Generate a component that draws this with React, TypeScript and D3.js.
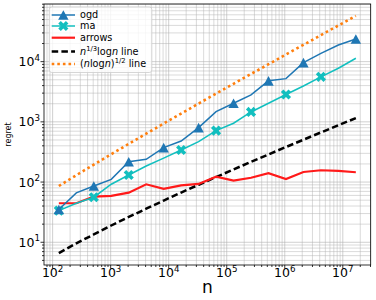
import React from 'react';
import * as d3 from 'd3';

// n = 2^7 ... 2^24
const nValues = [128, 256, 512, 1024, 2048, 4096, 8192, 16384, 32768, 65536, 131072, 262144, 524288, 1048576, 2097152, 4194304, 8388608, 16777216];
const ogd = [35, 66, 86, 111, 218, 239, 373, 480, 801, 1480, 2037, 2798, 4800, 5220, 9624, 13700, 18900, 23830];
const ma = [33.5, 44.5, 56, 92, 131, 185, 250, 341, 469, 714, 948, 1460, 2037, 2850, 3945, 5600, 7765, 11380];
const arrows = [44.5, 44.5, 57.5, 59, 66.6, 91.8, 77, 88, 93, 123, 106, 118, 140, 112, 147, 157, 153, 145.6];
const cubeLogLine = [6.6, 9.6, 13.5, 19.0, 26.3, 36.1, 49.3, 66.9, 90.2, 121, 162, 217, 288, 382, 505, 667, 879, 1155];
const sqrtLogLine = [86, 130, 195, 290, 431, 636, 937, 1375, 2012, 2939, 4284, 6235, 9058, 13143, 19046, 27570, 39865, 57590];
const ogdMarkerIdx = [0, 2, 4, 6, 8, 10, 12, 14, 17];
const maMarkerIdx = [0, 2, 4, 7, 9, 11, 13, 15];
const xTickExps = ['2', '3', '4', '5', '6', '7'];
const yTickExps = ['1', '2', '3', '4'];

const W = 376;
const H = 300;
const L = 44, R = 370.7, T = 4, B = 265;
const FONT = 'DejaVu Sans, sans-serif';
const BLUE = '#1f77b4';
const CYAN = '#12bfbf';
const RED = '#ff1a1a';
const ORANGE = '#ff7f0e';

function paddedLogDomain(vals: number[]): [number, number] {
  const lo = Math.log10(d3.min(vals) as number);
  const hi = Math.log10(d3.max(vals) as number);
  const p = 0.05 * (hi - lo);
  return [Math.pow(10, lo - p), Math.pow(10, hi + p)];
}

const isMajor = (v: number) => Math.abs(Math.log10(v) - Math.round(Math.log10(v))) < 1e-9;

const triPath = 'M0,-4.8 L5.2,4.8 L-5.2,4.8 Z';
function xMarkPath(s: number, t: number) {
  const pts = [[-t, -s], [t, -s], [t, -t], [s, -t], [s, t], [t, t], [t, s], [-t, s], [-t, t], [-s, t], [-s, -t], [-t, -t]];
  return 'M' + pts.map((p) => p.join(',')).join('L') + 'Z';
}
const xPath = xMarkPath(5.4, 1.8);

export default function App() {
  const x = d3.scaleLog().domain(paddedLogDomain(nValues)).range([L, R]);
  const allY = [...ogd, ...ma, ...arrows, ...cubeLogLine, ...sqrtLogLine];
  const y = d3.scaleLog().domain(paddedLogDomain(allY)).range([B, T]);

  const line = (vals: number[]) =>
    d3.line<number>().x((_, i) => x(nValues[i])).y((v) => y(v))(vals) as string;

  const xTicks = x.ticks();
  const yTicks = y.ticks();

  const legendRows = [
    { y: 15, key: 'ogd' },
    { y: 26, key: 'ma' },
    { y: 37.7, key: 'arrows' },
    { y: 51.5, key: 'cube' },
    { y: 64, key: 'sqrt' },
  ];
  const hx0 = 51.7, hx1 = 75, tx = 80;

  return (
    <svg width={W} height={H} style={{ position: 'absolute', left: 0, top: 0, background: '#fff' }} fontFamily={FONT}>
      <rect x={0} y={0} width={W} height={H} fill="#fff" />
      {/* grid */}
      <g>
        {xTicks.map((t, i) => (
          <line key={'gx' + i} x1={x(t)} x2={x(t)} y1={T} y2={B} stroke="#b0b0b0" strokeOpacity={isMajor(t) ? 0.75 : 0.6} strokeWidth={0.8} />
        ))}
        {yTicks.map((t, i) => (
          <line key={'gy' + i} x1={L} x2={R} y1={y(t)} y2={y(t)} stroke="#b0b0b0" strokeOpacity={isMajor(t) ? 0.75 : 0.6} strokeWidth={0.8} />
        ))}
      </g>
      {/* series */}
      <path d={line(sqrtLogLine)} fill="none" stroke={ORANGE} strokeWidth={2.6} strokeDasharray="2.6,3" />
      <path d={line(cubeLogLine)} fill="none" stroke="#000" strokeWidth={2.5} strokeDasharray="6.5,3.2" />
      <path d={line(arrows)} fill="none" stroke={RED} strokeWidth={2.2} />
      <path d={line(ma)} fill="none" stroke={CYAN} strokeWidth={1.5} />
      {maMarkerIdx.map((i) => (
        <path key={'mm' + i} d={xPath} transform={`translate(${x(nValues[i])},${y(ma[i])}) rotate(45)`} fill={CYAN} />
      ))}
      <path d={line(ogd)} fill="none" stroke={BLUE} strokeWidth={1.5} />
      {ogdMarkerIdx.map((i) => (
        <path key={'om' + i} d={triPath} transform={`translate(${x(nValues[i])},${y(ogd[i])})`} fill={BLUE} />
      ))}
      {/* spines */}
      <rect x={L} y={T} width={R - L} height={B - T} fill="none" stroke="#000" strokeWidth={0.8} />
      {/* ticks */}
      {xTicks.map((t, i) => (
        <line key={'tx' + i} x1={x(t)} x2={x(t)} y1={B} y2={B + (isMajor(t) ? 3.5 : 2)} stroke="#000" strokeWidth={0.8} />
      ))}
      {yTicks.map((t, i) => (
        <line key={'ty' + i} x1={L} x2={L - (isMajor(t) ? 3.5 : 2)} y1={y(t)} y2={y(t)} stroke="#000" strokeWidth={0.8} />
      ))}
      {xTickExps.map((e) => (
        <text key={'xl' + e} x={x(Math.pow(10, +e))} y={277} textAnchor="middle" fontSize={12.5} fill="#000">
          10<tspan fontSize={8.7} dy={-5.5}>{e}</tspan>
        </text>
      ))}
      {yTickExps.map((e) => (
        <text key={'yl' + e} x={40} y={y(Math.pow(10, +e)) + 4.5} textAnchor="end" fontSize={12.5} fill="#000">
          10<tspan fontSize={8.7} dy={-5.5}>{e}</tspan>
        </text>
      ))}
      {/* axis labels */}
      <text x={(L + R) / 2} y={293} textAnchor="middle" fontSize={17} fill="#000">n</text>
      <text x={10.5} y={(T + B) / 2} textAnchor="middle" fontSize={8} fill="#000" transform={`rotate(-90, 10.5, ${(T + B) / 2})`}>regret</text>
      {/* legend */}
      <rect x={49.3} y={7} width={102.5} height={65.5} rx={2.5} fill="#fff" fillOpacity={0.8} stroke="#cccccc" strokeWidth={0.8} />
      {legendRows.map((r) => {
        const mid = (hx0 + hx1) / 2;
        let handle: React.ReactNode = null;
        let label: React.ReactNode = null;
        if (r.key === 'ogd') {
          handle = (<g><line x1={hx0} x2={hx1} y1={r.y} y2={r.y} stroke={BLUE} strokeWidth={1.5} /><path d={triPath} transform={`translate(${mid},${r.y})`} fill={BLUE} /></g>);
          label = 'ogd';
        } else if (r.key === 'ma') {
          handle = (<g><line x1={hx0} x2={hx1} y1={r.y} y2={r.y} stroke={CYAN} strokeWidth={1.5} /><path d={xPath} transform={`translate(${mid},${r.y}) rotate(45)`} fill={CYAN} /></g>);
          label = 'ma';
        } else if (r.key === 'arrows') {
          handle = <line x1={hx0} x2={hx1} y1={r.y} y2={r.y} stroke={RED} strokeWidth={2.2} />;
          label = 'arrows';
        } else if (r.key === 'cube') {
          handle = <line x1={hx0} x2={hx1} y1={r.y} y2={r.y} stroke="#000" strokeWidth={2.5} strokeDasharray="6.5,3.2" />;
          label = (<><tspan fontStyle="italic">n</tspan><tspan fontSize={6.8} dy={-4}>1/3</tspan><tspan dy={4}>log</tspan><tspan fontStyle="italic">n</tspan> line</>);
        } else {
          handle = <line x1={hx0} x2={hx1} y1={r.y} y2={r.y} stroke={ORANGE} strokeWidth={2.6} strokeDasharray="2.6,3" />;
          label = (<>(<tspan fontStyle="italic">n</tspan>log<tspan fontStyle="italic">n</tspan>)<tspan fontSize={6.8} dy={-4}>1/2</tspan><tspan dy={4}> line</tspan></>);
        }
        return (
          <g key={r.key}>
            {handle}
            <text x={tx} y={r.y + 3.4} fontSize={9.7} fill="#000">{label}</text>
          </g>
        );
      })}
    </svg>
  );
}
